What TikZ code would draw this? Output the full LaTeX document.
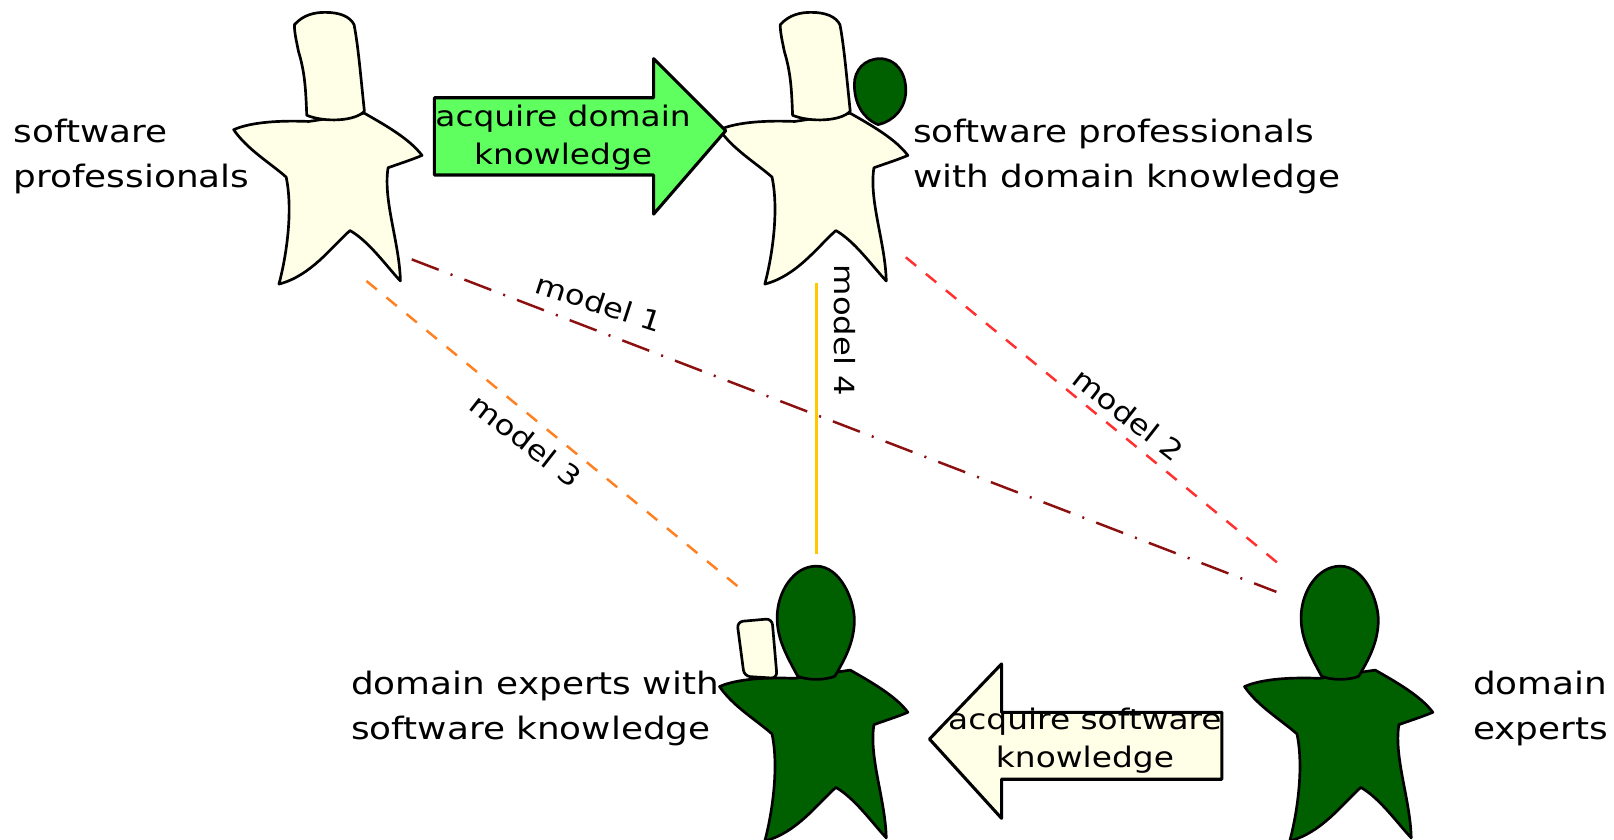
\documentclass[tikz,border=0pt]{standalone}
\usepackage{fontspec}
\setmainfont[FakeStretch=1.16]{DejaVu Sans}
\definecolor{cream}{HTML}{FFFFE8}
\definecolor{dgreen}{HTML}{006000}
\definecolor{lgreen}{HTML}{60FF60}
\definecolor{mdarkred}{HTML}{8B1010}
\definecolor{mred}{HTML}{FF3030}
\definecolor{morange}{HTML}{FF8020}
\definecolor{myellow}{HTML}{FFC800}
\tikzset{
  outline/.style={draw=black,line width=2.6pt,line join=round},
  person/.pic={
    \path[outline,fill=#1] (227,126) .. controls (245,118) and (275,117) .. (300,118)
      -- (354,110) .. controls (375,122) and (398,135) .. (410,151)
      .. controls (398,156) and (385,160) .. (377,163)
      .. controls (372,195) and (388,235) .. (389,273)
      .. controls (375,258) and (358,234) .. (340,224)
      .. controls (322,240) and (302,268) .. (271,276)
      .. controls (278,250) and (285,205) .. (278,172)
      .. controls (262,158) and (240,145) .. (227,126) -- cycle;
  },
  longhead/.pic={
    \path[outline,fill=#1] (298,112) .. controls (297,85) and (296,70) .. (290,50)
      .. controls (288,40) and (286,32) .. (286,24)
      .. controls (295,14) and (306,12) .. (316,12)
      .. controls (330,12) and (340,16) .. (344,24)
      .. controls (348,45) and (350,70) .. (354,108)
      .. controls (345,118) and (315,119) .. (298,112) -- cycle;
  },
  roundhead/.pic={
    \path[outline,fill=dgreen] (0,-50) .. controls (24,-50) and (38,-15) .. (37,5)
      .. controls (36,25) and (28,40) .. (18,57)
      .. controls (8,61) and (-8,61) .. (-18,57)
      .. controls (-30,35) and (-38,20) .. (-38,0)
      .. controls (-38,-25) and (-22,-50) .. (0,-50) -- cycle;
  },
  txt/.style={font=\fontsize{30}{44}\selectfont,align=left,anchor=west,inner sep=0pt},
  arrowtxt/.style={font=\fontsize{27.5}{37}\selectfont,align=center,inner sep=0pt},
  modeltxt/.style={font=\fontsize{27}{30}\selectfont,inner sep=0pt},
  arrowshape/.style={outline,line width=3pt},
  mone/.style={draw=mdarkred,line width=2.4pt,dash pattern=on 28pt off 12.4pt on 2pt off 12.4pt},
  mtwo/.style={draw=mred,line width=2.4pt,dash pattern=on 13pt off 12.2pt},
  mthree/.style={draw=morange,line width=2.4pt,dash pattern=on 13pt off 12.2pt},
  mfour/.style={draw=myellow,line width=2.4pt},
}
\begin{document}
\begin{tikzpicture}[x=1pt,y=-1pt]
\useasboundingbox (0,0) rectangle (1568,816);
\clip (0,0) rectangle (1568,816);
% people
\pic at (0,0) {person={cream}};
\pic at (0,0) {longhead={cream}};
\path[outline,fill=dgreen] (855,57) .. controls (870,57) and (880,70) .. (880,88)
  .. controls (880,105) and (868,118) .. (853,121)
  .. controls (838,115) and (830,100) .. (830,82)
  .. controls (830,68) and (840,57) .. (855,57) -- cycle;
\pic at (472,0) {person={cream}};
\pic at (472,0) {longhead={cream}};
\pic at (472,541) {person={dgreen}};
\path[outline,fill=cream,rounded corners=6pt] (716,604) -- (750,601) -- (755,659) -- (723,657) -- cycle;
\pic at (793,600) {roundhead};
\pic at (982,541) {person={dgreen}};
\pic at (1302,600) {roundhead};
% arrows
\path[arrowshape,fill=lgreen] (422,95) -- (635,95) -- (635,57) -- (705,127) -- (635,208) -- (635,170) -- (422,170) -- cycle;
\path[arrowshape,fill=cream] (1187,692) -- (973,692) -- (973,645) -- (903,718) -- (973,795) -- (973,757) -- (1187,757) -- cycle;
\node[arrowtxt] (acqd) at (547,134) {acquire domain\\knowledge};
\node[arrowtxt] (acqs) at (1054,720) {acquire software\\knowledge};
% connector ends
\coordinate (a1) at (400,252);
\coordinate (b1) at (1240,575);
\coordinate (a2) at (880,250);
\coordinate (b2) at (1245,550);
\coordinate (a3) at (356,273);
\coordinate (b3) at (722,574);
\coordinate (a4) at (793,275);
\coordinate (b4) at (793,538);
\draw[mone] (a1) -- (b1);
\draw[mtwo] (a2) -- (b2);
\draw[mthree] (a3) -- (b3);
\draw[mfour] (a4) -- (b4);
% labels
\node[txt] (l1) at (13,152) {software\\professionals};
\node[txt] (l2) at (887,152) {software professionals\\with domain knowledge};
\node[txt] (l3) at (341,688) {domain experts with\\software knowledge};
\node[txt] (l4) at (1431,688) {domain\\experts};
\node[modeltxt,rotate=-18] (m1) at (582,294) {model 1};
\node[modeltxt,rotate=-38] (m2) at (1096,403) {model 2};
\node[modeltxt,rotate=-38] (m3) at (511,428) {model 3};
\node[modeltxt,rotate=-90] (m4) at (821,321) {model 4};
\end{tikzpicture}
\end{document}
